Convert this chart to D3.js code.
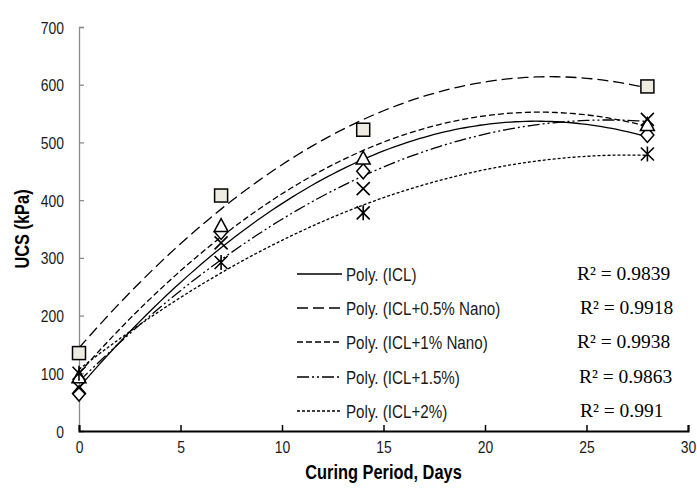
<!DOCTYPE html>
<html>
<head>
<meta charset="utf-8">
<script src="https://cdn.jsdelivr.net/npm/d3@7"></script>
<style>
  html, body { margin: 0; padding: 0; background: #fff; }
  svg { display: block; }
  .sans { font-family: "Liberation Sans", Arial, sans-serif; }
</style>
</head>
<body>
<svg id="chart" width="697" height="491"></svg>
<script>
// ---- data ----
const days = [0, 7, 14, 28];
const seriesNames = ["ICL", "ICL+0.5% Nano", "ICL+1% Nano", "ICL+1.5%", "ICL+2%"];
const ucsICL    = [65, 345, 450, 513];
const ucsNano05 = [135, 408, 522, 597];
const ucsNano1  = [93, 355, 472, 530];
const ucsICL15  = [75, 326, 420, 540];
const ucsICL2   = [100, 292, 378, 480];
const legendLabels = ["Poly. (ICL)", "Poly. (ICL+0.5% Nano)", "Poly. (ICL+1% Nano)", "Poly. (ICL+1.5%)", "Poly. (ICL+2%)"];
const r2Labels = ["R\u00B2 = 0.9839", "R\u00B2 = 0.9918", "R\u00B2 = 0.9938", "R\u00B2 = 0.9863", "R\u00B2 = 0.991"];
const xTicks = [0, 5, 10, 15, 20, 25, 30];
const yTicks = [0, 100, 200, 300, 400, 500, 600, 700];

const seriesValues = [ucsICL, ucsNano05, ucsNano1, ucsICL15, ucsICL2];
const markerTypes = ["diamond", "square", "triangle", "x", "star"];
const dashes = [null, "11,5", "6,3", "12,3,2,3,2,3", "3,2"];
const NARROW = 0.82;

// ---- layout ----
const svg = d3.select("#chart");
const x = d3.scaleLinear().domain([0, 30]).range([79, 688]);
const y = d3.scaleLinear().domain([0, 700]).range([431, 27]);

// quadratic least squares fit (Excel "Poly." order 2 trendline)
function polyFit2(xs, ys) {
  let S = [0,0,0,0,0], T = [0,0,0];
  xs.forEach((xv, i) => {
    for (let k = 0; k < 5; k++) S[k] += Math.pow(xv, k);
    for (let k = 0; k < 3; k++) T[k] += Math.pow(xv, k) * ys[i];
  });
  const M = [[S[0],S[1],S[2],T[0]],[S[1],S[2],S[3],T[1]],[S[2],S[3],S[4],T[2]]];
  for (let i = 0; i < 3; i++) {
    let p = i;
    for (let r = i+1; r < 3; r++) if (Math.abs(M[r][i]) > Math.abs(M[p][i])) p = r;
    [M[i], M[p]] = [M[p], M[i]];
    for (let r = 0; r < 3; r++) {
      if (r === i) continue;
      const f = M[r][i] / M[i][i];
      for (let c = i; c < 4; c++) M[r][c] -= f * M[i][c];
    }
  }
  return [M[0][3]/M[0][0], M[1][3]/M[1][1], M[2][3]/M[2][2]];
}

// y axis (gray, ticks inward)
const yAxis = svg.append("g").attr("transform", `translate(${x(0)},0)`)
  .call(d3.axisLeft(y).tickValues(yTicks).tickSize(-5));
yAxis.select(".domain").attr("stroke", "#8c8c8c").attr("stroke-width", 1.3);
yAxis.selectAll(".tick line").attr("stroke", "#8c8c8c").attr("stroke-width", 1.3);
yAxis.selectAll(".tick text")
  .attr("x", null).attr("dy", null).attr("class", "sans")
  .attr("transform", `translate(-15,6) scale(${NARROW},1)`)
  .attr("text-anchor", "end").attr("font-size", 17).attr("fill", "#1a1a1a");

// x axis (black, ticks inward)
const xAxis = svg.append("g").attr("transform", `translate(0,${y(0)})`)
  .call(d3.axisBottom(x).tickValues(xTicks).tickSize(-6));
xAxis.select(".domain").attr("stroke", "#000").attr("stroke-width", 2);
xAxis.selectAll(".tick line").attr("stroke", "#000").attr("stroke-width", 1.5);
xAxis.selectAll(".tick text")
  .attr("y", null).attr("dy", null).attr("class", "sans")
  .attr("transform", `translate(0,22) scale(${NARROW},1)`)
  .attr("text-anchor", "middle").attr("font-size", 17).attr("fill", "#1a1a1a");

// axis titles
svg.append("text").attr("class", "sans")
  .attr("transform", `translate(${(x(0) + x(30)) / 2},479) scale(${NARROW},1)`)
  .attr("text-anchor", "middle").attr("font-size", 20).attr("font-weight", "bold")
  .text("Curing Period, Days");
svg.append("text").attr("class", "sans")
  .attr("transform", `translate(29,${y(350)}) rotate(-90) scale(${NARROW},1)`)
  .attr("text-anchor", "middle").attr("font-size", 20).attr("font-weight", "bold")
  .text("UCS (kPa)");

// trendlines
const line = d3.line().x(d => x(d[0])).y(d => y(d[1]));
const curveXs = d3.range(0, 28.001, 0.25);
seriesValues.forEach((vals, i) => {
  const c = polyFit2(days, vals);
  const pts = curveXs.map(t => [t, c[0] + c[1]*t + c[2]*t*t]);
  svg.append("path").attr("d", line(pts))
    .attr("fill", "none").attr("stroke", "#000").attr("stroke-width", 1.3)
    .attr("stroke-dasharray", dashes[i]);
});

// markers
function drawMarker(g, type, cx, cy) {
  const s = 6.5;
  if (type === "square") {
    g.append("rect").attr("x", cx - s).attr("y", cy - s).attr("width", 2*s).attr("height", 2*s)
      .attr("fill", "#eeece1").attr("stroke", "#000").attr("stroke-width", 1.5);
  } else if (type === "diamond") {
    g.append("path").attr("d", `M${cx},${cy-s-1}L${cx+s},${cy}L${cx},${cy+s+1}L${cx-s},${cy}Z`)
      .attr("fill", "#fff").attr("stroke", "#000").attr("stroke-width", 1.5);
  } else if (type === "triangle") {
    g.append("path").attr("d", `M${cx},${cy-s-1}L${cx+s+0.5},${cy+s-1}L${cx-s-0.5},${cy+s-1}Z`)
      .attr("fill", "#fff").attr("stroke", "#000").attr("stroke-width", 1.5);
  } else if (type === "x") {
    g.append("path").attr("d", `M${cx-s},${cy-s}L${cx+s},${cy+s}M${cx+s},${cy-s}L${cx-s},${cy+s}`)
      .attr("stroke", "#000").attr("stroke-width", 1.6);
  } else if (type === "star") {
    g.append("path").attr("d", `M${cx-s},${cy-s}L${cx+s},${cy+s}M${cx+s},${cy-s}L${cx-s},${cy+s}M${cx},${cy-s-1}L${cx},${cy+s+1}`)
      .attr("stroke", "#000").attr("stroke-width", 1.6);
  }
}
const mg = svg.append("g");
seriesValues.forEach((vals, i) => {
  vals.forEach((v, j) => drawMarker(mg, markerTypes[i], x(days[j]), y(v)));
});

// legend
const legendRowsY = [274, 308, 342, 377, 411];
const r2X = [577, 580, 577, 579, 580];
legendLabels.forEach((lab, i) => {
  const ly = legendRowsY[i];
  svg.append("line").attr("x1", 297).attr("x2", 342).attr("y1", ly).attr("y2", ly)
    .attr("stroke", "#000").attr("stroke-width", 1.3).attr("stroke-dasharray", dashes[i]);
  svg.append("text").attr("class", "sans")
    .attr("transform", `translate(346,${ly + 6.5}) scale(${NARROW},1)`)
    .attr("font-size", 18.5).attr("fill", "#1a1a1a").text(lab);
  svg.append("text").attr("x", r2X[i]).attr("y", ly + 6)
    .attr("font-family", "'Liberation Serif', 'Times New Roman', serif")
    .attr("font-size", 19.5).attr("fill", "#000").text(r2Labels[i]);
});
</script>
</body>
</html>
